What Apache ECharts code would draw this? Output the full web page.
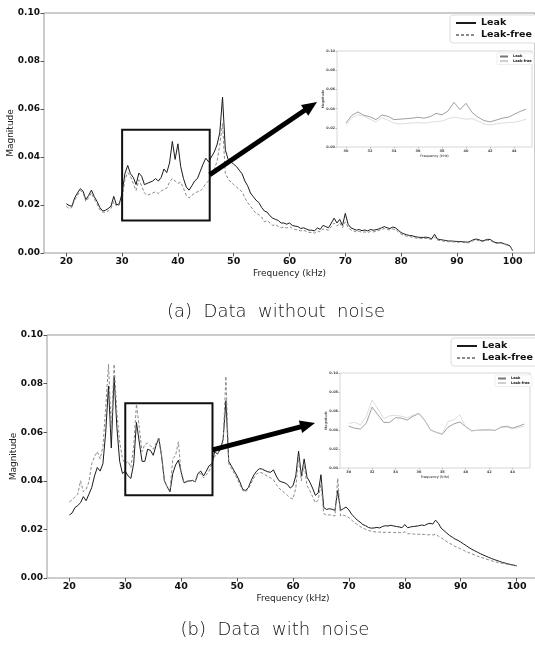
<!DOCTYPE html>
<html>
<head>
<meta charset="utf-8">
<script src="https://cdn.jsdelivr.net/npm/echarts@6/dist/echarts.min.js"></script>
<style>
  html, body { margin: 0; padding: 0; background: #fff; }
  #chart { width: 535px; height: 648px; }
</style>
</head>
<body>
<div id="chart"></div>
<script>
// x grid (kHz) shared by every curve, 0.5 kHz steps 20..100
const freqs = [];
for (let i = 0; i <= 160; i++) freqs.push(20 + i * 0.5);

const mainXTicks = [20, 30, 40, 50, 60, 70, 80, 90, 100];
const insetXTicks = [30, 32, 34, 36, 38, 40, 42, 44];
const zoomRange = [30, 45];

// (a) data without noise
const leakA = [
  0.0205,0.0198,0.0195,0.0230,0.0250,0.0268,0.0258,0.0222,0.0240,0.0262,
  0.0235,0.0215,0.0190,0.0175,0.0178,0.0185,0.0195,0.0236,0.0200,0.0205,
  0.0250,0.0330,0.0365,0.0330,0.0315,0.0285,0.0333,0.0320,0.0285,0.0290,
  0.0295,0.0300,0.0310,0.0300,0.0315,0.0350,0.0335,0.0375,0.0465,0.0390,
  0.0455,0.0360,0.0310,0.0275,0.0262,0.0280,0.0300,0.0310,0.0340,0.0370,
  0.0395,0.0380,0.0400,0.0420,0.0450,0.0500,0.0650,0.0430,0.0390,0.0380,
  0.0370,0.0360,0.0345,0.0330,0.0300,0.0280,0.0250,0.0235,0.0220,0.0210,
  0.0190,0.0175,0.0170,0.0155,0.0145,0.0140,0.0135,0.0125,0.0125,0.0120,
  0.0125,0.0115,0.0112,0.0110,0.0102,0.0105,0.0100,0.0095,0.0095,0.0092,
  0.0105,0.0098,0.0115,0.0110,0.0105,0.0125,0.0145,0.0125,0.0140,0.0115,
  0.0165,0.0120,0.0105,0.0100,0.0095,0.0098,0.0093,0.0096,0.0092,0.0098,
  0.0095,0.0097,0.0100,0.0105,0.0110,0.0105,0.0102,0.0108,0.0105,0.0095,
  0.0085,0.0080,0.0076,0.0073,0.0072,0.0068,0.0066,0.0065,0.0065,0.0066,
  0.0063,0.0060,0.0078,0.0058,0.0056,0.0054,0.0052,0.0050,0.0050,0.0049,
  0.0048,0.0048,0.0047,0.0046,0.0045,0.0050,0.0056,0.0058,0.0055,0.0050,
  0.0053,0.0057,0.0056,0.0048,0.0043,0.0042,0.0043,0.0038,0.0035,0.0030,
  0.0010
];
const freeA = [
  0.0195,0.0185,0.0190,0.0220,0.0240,0.0260,0.0250,0.0215,0.0230,0.0250,
  0.0225,0.0205,0.0180,0.0170,0.0170,0.0175,0.0185,0.0215,0.0195,0.0200,
  0.0225,0.0305,0.0335,0.0320,0.0290,0.0260,0.0305,0.0280,0.0250,0.0240,
  0.0245,0.0250,0.0255,0.0248,0.0258,0.0265,0.0270,0.0295,0.0310,0.0300,
  0.0290,0.0295,0.0270,0.0240,0.0230,0.0240,0.0250,0.0255,0.0258,0.0270,
  0.0290,0.0300,0.0325,0.0350,0.0380,0.0450,0.0540,0.0330,0.0310,0.0295,
  0.0285,0.0275,0.0265,0.0255,0.0230,0.0210,0.0195,0.0180,0.0165,0.0160,
  0.0150,0.0130,0.0135,0.0125,0.0115,0.0118,0.0110,0.0105,0.0108,0.0104,
  0.0110,0.0102,0.0098,0.0096,0.0092,0.0095,0.0090,0.0086,0.0085,0.0083,
  0.0092,0.0088,0.0100,0.0098,0.0095,0.0110,0.0125,0.0112,0.0125,0.0105,
  0.0130,0.0108,0.0095,0.0092,0.0088,0.0090,0.0086,0.0088,0.0085,0.0090,
  0.0088,0.0090,0.0094,0.0098,0.0102,0.0098,0.0096,0.0100,0.0098,0.0088,
  0.0078,0.0074,0.0070,0.0068,0.0066,0.0063,0.0061,0.0060,0.0060,0.0061,
  0.0058,0.0056,0.0066,0.0054,0.0052,0.0050,0.0048,0.0047,0.0047,0.0046,
  0.0045,0.0045,0.0044,0.0043,0.0042,0.0047,0.0052,0.0054,0.0051,0.0047,
  0.0050,0.0053,0.0052,0.0045,0.0040,0.0040,0.0040,0.0036,0.0033,0.0028,
  0.0010
];

// (b) data with noise
const leakB = [
  0.0259,0.0268,0.0290,0.0298,0.0310,0.0335,0.0318,0.0345,0.0372,0.0420,
  0.0455,0.0440,0.0470,0.0600,0.0790,0.0535,0.0830,0.0620,0.0480,0.0430,
  0.0440,0.0420,0.0410,0.0470,0.0640,0.0560,0.0480,0.0480,0.0530,0.0525,
  0.0505,0.0545,0.0575,0.0500,0.0400,0.0375,0.0355,0.0430,0.0465,0.0485,
  0.0435,0.0392,0.0398,0.0400,0.0402,0.0395,0.0430,0.0440,0.0420,0.0440,
  0.0462,0.0470,0.0520,0.0510,0.0530,0.0570,0.0730,0.0480,0.0460,0.0440,
  0.0420,0.0395,0.0365,0.0360,0.0372,0.0400,0.0424,0.0440,0.0450,0.0448,
  0.0442,0.0437,0.0435,0.0445,0.0420,0.0400,0.0395,0.0392,0.0385,0.0370,
  0.0380,0.0420,0.0522,0.0420,0.0490,0.0415,0.0395,0.0370,0.0340,0.0350,
  0.0425,0.0290,0.0282,0.0285,0.0283,0.0278,0.0360,0.0278,0.0285,0.0292,
  0.0280,0.0262,0.0250,0.0238,0.0230,0.0220,0.0215,0.0208,0.0205,0.0206,
  0.0208,0.0206,0.0212,0.0215,0.0214,0.0217,0.0214,0.0212,0.0210,0.0207,
  0.0220,0.0207,0.0210,0.0212,0.0213,0.0215,0.0218,0.0216,0.0222,0.0225,
  0.0222,0.0238,0.0225,0.0205,0.0195,0.0185,0.0175,0.0168,0.0160,0.0155,
  0.0148,0.0140,0.0133,0.0125,0.0118,0.0112,0.0106,0.0100,0.0095,0.0090,
  0.0085,0.0080,0.0076,0.0072,0.0068,0.0064,0.0061,0.0058,0.0055,0.0053,
  0.0050
];
const freeB = [
  0.0313,0.0322,0.0334,0.0345,0.0400,0.0355,0.0365,0.0395,0.0470,0.0500,
  0.0520,0.0490,0.0540,0.0700,0.0880,0.0610,0.0880,0.0680,0.0560,0.0490,
  0.0470,0.0480,0.0455,0.0540,0.0715,0.0620,0.0520,0.0550,0.0555,0.0545,
  0.0530,0.0555,0.0578,0.0505,0.0400,0.0375,0.0362,0.0490,0.0505,0.0560,
  0.0430,0.0390,0.0395,0.0398,0.0400,0.0397,0.0425,0.0430,0.0412,0.0425,
  0.0440,0.0470,0.0500,0.0510,0.0535,0.0560,0.0830,0.0470,0.0450,0.0430,
  0.0410,0.0385,0.0360,0.0355,0.0365,0.0390,0.0412,0.0428,0.0435,0.0432,
  0.0425,0.0418,0.0412,0.0405,0.0385,0.0370,0.0360,0.0350,0.0340,0.0330,
  0.0325,0.0370,0.0500,0.0400,0.0470,0.0380,0.0360,0.0335,0.0310,0.0320,
  0.0390,0.0265,0.0258,0.0260,0.0258,0.0255,0.0410,0.0255,0.0258,0.0255,
  0.0248,0.0238,0.0228,0.0220,0.0212,0.0205,0.0200,0.0196,0.0192,0.0190,
  0.0190,0.0189,0.0188,0.0188,0.0188,0.0188,0.0187,0.0187,0.0187,0.0186,
  0.0190,0.0182,0.0182,0.0181,0.0180,0.0180,0.0180,0.0179,0.0178,0.0178,
  0.0177,0.0180,0.0172,0.0165,0.0158,0.0150,0.0143,0.0137,0.0130,0.0125,
  0.0120,0.0114,0.0109,0.0104,0.0099,0.0095,0.0090,0.0086,0.0082,0.0078,
  0.0075,0.0071,0.0068,0.0065,0.0062,0.0060,0.0058,0.0056,0.0054,0.0052,
  0.0050
];

const FONT = 'DejaVu Sans';

function pairs(vals, lo, hi) {
  return freqs.map((f, i) => [f, vals[i]]).filter(p => p[0] >= lo && p[0] <= hi);
}

function xAxisCfg(grid, min, max, ticks, small) {
  return {
    type: 'value', gridIndex: grid, min: min, max: max,
    name: 'Frequency (kHz)', nameLocation: 'middle', nameGap: small ? 7 : 16,
    nameMoveOverlap: false,
    nameTextStyle: { fontFamily: FONT, fontSize: small ? 3.5 : 9, color: '#222' },
    axisLine: { show: false },
    splitLine: { show: false },
    axisTick: { show: true, customValues: ticks, length: small ? 1.5 : 3.5, lineStyle: { color: small ? '#888' : '#555', width: small ? 0.5 : 1 } },
    axisLabel: { customValues: ticks, margin: small ? 2 : 4, fontFamily: FONT, fontWeight: 'bold',
      fontSize: small ? 3.5 : 9.5, color: small ? '#444' : '#111' }
  };
}

function yAxisCfg(grid, small) {
  return {
    type: 'value', gridIndex: grid, min: 0, max: 0.1, interval: 0.02,
    name: 'Magnitude', nameLocation: 'middle', nameGap: small ? 12 : 29,
    nameMoveOverlap: false,
    nameTextStyle: { fontFamily: FONT, fontSize: small ? 3.5 : 9, color: '#222' },
    axisLine: { show: false },
    splitLine: { show: false },
    axisTick: { show: true, length: small ? 1.5 : 3.5, lineStyle: { color: small ? '#888' : '#555', width: small ? 0.5 : 1 } },
    axisLabel: { margin: small ? 2 : 4, fontFamily: FONT, fontWeight: 'bold',
      fontSize: small ? 3.5 : 9, color: small ? '#444' : '#111',
      formatter: v => v.toFixed(2) }
  };
}

function lineSeries(name, grid, data, color, width, type) {
  return {
    type: 'line', name: name, xAxisIndex: grid, yAxisIndex: grid, data: data,
    symbol: 'none', silent: true,
    lineStyle: { color: color, width: width, type: type || 'solid' },
    itemStyle: { color: color }
  };
}

function legendCfg(left, top, small) {
  return {
    data: small ? ['inset Leak', 'inset Leak-free'] : ['Leak', 'Leak-free'],
    formatter: n => n.replace('inset ', ''),
    orient: 'vertical', left: left, top: top, selectedMode: false,
    itemWidth: small ? 8 : 20, itemHeight: small ? 3 : 8, itemGap: small ? 0.5 : 2,
    padding: small ? [1.5, 2, 1.5, 2] : [3, 6, 3, 5],
    borderColor: small ? '#eee' : '#ddd', borderWidth: 1, borderRadius: small ? 1 : 3,
    backgroundColor: '#fff',
    itemStyle: { opacity: 0 },
    textStyle: { fontFamily: FONT, fontWeight: 'bold', fontSize: small ? 3.5 : 9.5, color: '#111' }
  };
}

const chart = echarts.init(document.getElementById('chart'), null, { renderer: 'canvas' });

const frame = { show: true, borderColor: '#999', borderWidth: 1, backgroundColor: 'transparent', outerBoundsMode: 'none', containLabel: false };
const insetFrame = { show: true, borderColor: '#ccc', borderWidth: 0.8, backgroundColor: '#fff', outerBoundsMode: 'none', containLabel: false };

chart.setOption({
  animation: false,
  backgroundColor: '#fff',
  grid: [
    Object.assign({ left: 44, top: 13, width: 491, height: 240 }, frame),
    Object.assign({ left: 337, top: 51, width: 195, height: 96 }, insetFrame),
    Object.assign({ left: 47, top: 335, width: 492, height: 243 }, frame),
    Object.assign({ left: 340, top: 373, width: 190, height: 95 }, insetFrame)
  ],
  xAxis: [
    xAxisCfg(0, 16, 104, mainXTicks, false),
    xAxisCfg(1, 29.26, 45.49, insetXTicks, true),
    xAxisCfg(2, 16, 104, mainXTicks, false),
    xAxisCfg(3, 29.26, 45.49, insetXTicks, true)
  ],
  yAxis: [yAxisCfg(0, false), yAxisCfg(1, true), yAxisCfg(2, false), yAxisCfg(3, true)],
  legend: [
    legendCfg(450, 15, false),
    legendCfg(497, 53, true),
    legendCfg(451, 338, false),
    legendCfg(495, 375, true)
  ],
  series: [
    lineSeries('Leak', 0, pairs(leakA, 20, 100), '#1a1a1a', 1),
    lineSeries('Leak-free', 0, pairs(freeA, 20, 100), '#8a8a8a', 1, [3, 2]),
    lineSeries('inset Leak', 1, pairs(leakA, zoomRange[0], zoomRange[1]), '#777', 0.7),
    lineSeries('inset Leak-free', 1, pairs(freeA, zoomRange[0], zoomRange[1]), '#cfcfcf', 0.7),
    lineSeries('Leak', 2, pairs(leakB, 20, 100), '#1a1a1a', 1),
    lineSeries('Leak-free', 2, pairs(freeB, 20, 100), '#8a8a8a', 1, [3, 2]),
    lineSeries('inset Leak', 3, pairs(leakB, zoomRange[0], zoomRange[1]), '#777', 0.7),
    lineSeries('inset Leak-free', 3, pairs(freeB, zoomRange[0], zoomRange[1]), '#cfcfcf', 0.7)
  ]
});

// zoom boxes (data coords) and arrows pointing at the insets
const boxA = [[30, 0.0135], [45.7, 0.0514]];
const boxB = [[30, 0.0341], [45.6, 0.0719]];

function boxGraphic(grid, box) {
  const p0 = chart.convertToPixel({ gridIndex: grid }, box[0]);
  const p1 = chart.convertToPixel({ gridIndex: grid }, box[1]);
  return {
    type: 'rect', z: 100,
    shape: { x: p0[0], y: p1[1], width: p1[0] - p0[0], height: p0[1] - p1[1] },
    style: { fill: null, stroke: '#111', lineWidth: 2 }
  };
}

function arrowGraphic(start, tip, headLen, headW, shaftW) {
  const dx = tip[0] - start[0], dy = tip[1] - start[1];
  const len = Math.sqrt(dx * dx + dy * dy);
  const ux = dx / len, uy = dy / len;
  const bx = tip[0] - ux * headLen, by = tip[1] - uy * headLen;
  const nx = -uy * headW / 2, ny = ux * headW / 2;
  return [
    { type: 'line', z: 100, shape: { x1: start[0], y1: start[1], x2: bx + ux * 2, y2: by + uy * 2 },
      style: { stroke: '#000', lineWidth: shaftW } },
    { type: 'polygon', z: 100, shape: { points: [tip, [bx + nx, by + ny], [bx - nx, by - ny]] },
      style: { fill: '#000' } }
  ];
}

const startA = chart.convertToPixel({ gridIndex: 0 }, [45.7, 0.0326]);
const startB = chart.convertToPixel({ gridIndex: 2 }, [45.6, 0.0527]);

function caption(text, x, y) {
  return {
    type: 'text', z: 100, x: x, y: y,
    style: { text: text, fontFamily: FONT, fontSize: 18, fontWeight: 300, fill: '#111',
      align: 'center', verticalAlign: 'middle' }
  };
}

chart.setOption({
  graphic: [
    boxGraphic(0, boxA),
    boxGraphic(2, boxB),
    ...arrowGraphic(startA, [317, 102], 15, 13, 5),
    ...arrowGraphic(startB, [315, 423], 15, 13, 5),
    caption('(a)  Data  without  noise', 276, 312),
    caption('(b)  Data  with  noise', 275, 630)
  ]
});
</script>
</body>
</html>
